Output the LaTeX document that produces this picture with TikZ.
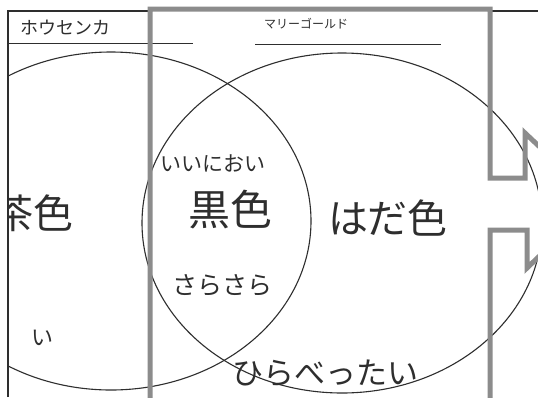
\documentclass[tikz,border=0pt]{standalone}
\usepackage{fontspec}
\newfontfamily\jp{Noto Sans CJK JP}[Scale=1]
\definecolor{ink}{HTML}{2E2E2E}
\definecolor{frame}{HTML}{8C8C8C}
\tikzset{
  thinline/.style={draw=ink, line width=1.1pt},
  graybox/.style={draw=frame, line width=5pt, line join=miter},
  lbl/.style={inner sep=0pt, text=ink, font=\jp},
}
\begin{document}
\begin{tikzpicture}[x=1pt, y=-1pt]
\useasboundingbox (0,0) rectangle (538,397);
\fill[white] (0,0) rectangle (538,397);
% outer thin frame
\coordinate (fbl) at (8,397);
\coordinate (ftl) at (8,11);
\coordinate (ftm) at (150,11);
\coordinate (ftr1) at (490,11);
\coordinate (ftr2) at (538,11);
\draw[thinline] (fbl) -- (ftl) -- (ftm);
\draw[thinline] (ftr1) -- (ftr2);
% header underlines
\coordinate (u1a) at (8,43); \coordinate (u1b) at (193,43);
\coordinate (u2a) at (255,44); \coordinate (u2b) at (441,44);
\draw[thinline, line width=0.9pt] (u1a) -- (u1b);
\draw[thinline, line width=0.9pt] (u2a) -- (u2b);
\begin{scope}
\clip (8,0) rectangle (538,397);
% circles
\draw[thinline] (111,221) ellipse [x radius=200, y radius=169];
\draw[thinline] (342,223) ellipse [x radius=200, y radius=170];
% texts
\node[lbl, font=\jp\fontsize{40}{40}\selectfont] (cha) at (34,213) {茶色};
\node[lbl, font=\jp\fontsize{22}{22}\selectfont] (tai) at (42,338) {い};
\node[lbl, font=\jp\fontsize{21}{21}\selectfont] (nioi) at (213,163) {いいにおい};
\node[lbl, font=\jp\fontsize{42}{42}\selectfont] (kuro) at (230,210) {黒色};
\node[lbl, font=\jp\fontsize{40}{40}\selectfont] (hada) at (388,218) {はだ色};
\node[lbl, font=\jp\fontsize{25}{25}\selectfont] (sara) at (222,285) {さらさら};
\node[lbl, font=\jp\fontsize{31}{31}\selectfont] (hira) at (325,373) {ひらべったい};
\end{scope}
\node[lbl, font=\jp\fontsize{18}{18}\selectfont] (hou) at (65,28) {ホウセンカ};
\node[lbl, font=\jp\fontsize{12}{12}\selectfont] (mari) at (306,24) {マリーゴールド};
% gray box with arrow
\begin{scope}
\clip (0,0) rectangle (538,397);
\coordinate (g1) at (150,400);
\coordinate (g2) at (150,9);
\coordinate (g3) at (490,9);
\coordinate (g4) at (490,178);
\coordinate (g5) at (525,178);
\coordinate (g6) at (525,133);
\coordinate (g7) at (597,201);
\coordinate (g8) at (527,268);
\coordinate (g9) at (527,230);
\coordinate (g10) at (490,230);
\coordinate (g11) at (490,400);
\draw[graybox] (g1) -- (g2) -- (g3) -- (g4) -- (g5) -- (g6) -- (g7) -- (g8) -- (g9) -- (g10) -- (g11);
\end{scope}
\end{tikzpicture}
\end{document}
